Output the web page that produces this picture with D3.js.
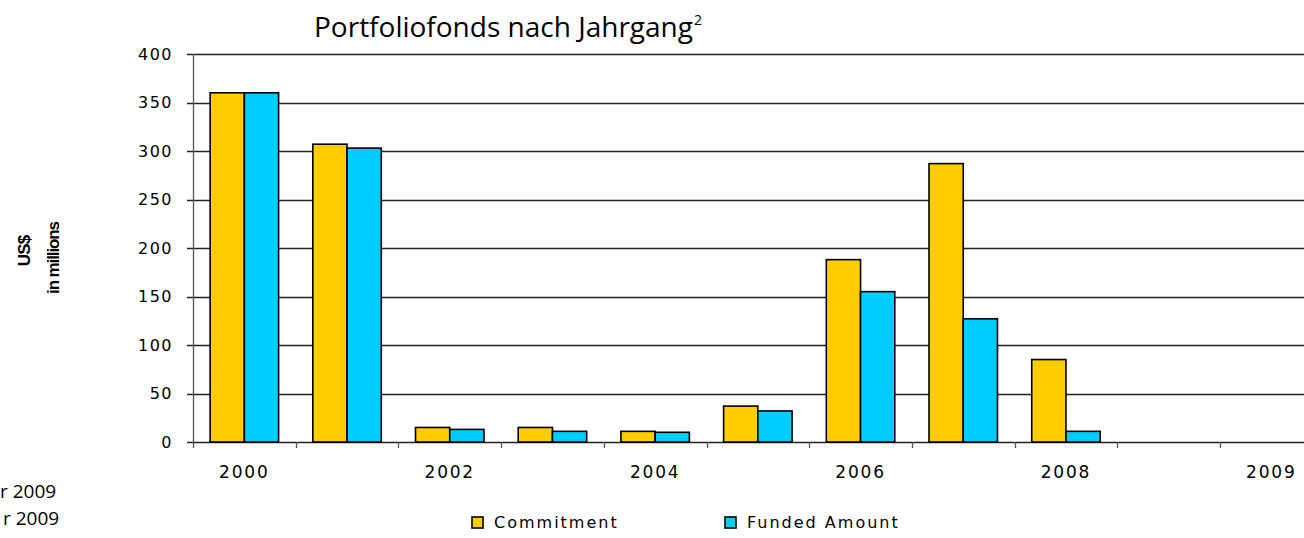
<!DOCTYPE html>
<html>
<head>
<meta charset="utf-8">
<script src="https://cdn.jsdelivr.net/npm/d3@7"></script>
<style>
  body { margin: 0; background: #fff; }
  svg { display: block; }
  .tick-label { font-family: "DejaVu Sans", Verdana, sans-serif; fill: #000; }
</style>
</head>
<body>
<div id="chart"></div>
<script>
// data
var categories = ["2000", "2001", "2002", "2003", "2004", "2005", "2006", "2007", "2008", "2009a", "2009"];
var tickLabels = ["2000", "", "2002", "", "2004", "", "2006", "", "2008", "", "2009"];
var commitment = [360, 307, 15, 15, 11, 37, 188, 287, 85, 0, 0];
var funded = [360, 303, 13, 11, 10, 32, 155, 127, 11, 0, 0];
var seriesNames = ["Commitment", "Funded Amount"];
var seriesColors = ["#FFCC00", "#00CCFF"];
var yTicks = [0, 50, 100, 150, 200, 250, 300, 350, 400];

var width = 1304, height = 538;
var plotLeft = 193, plotTop = 54, plotBottom = 442;
var bandW = 102.7;

var svg = d3.select("#chart").append("svg")
    .attr("width", width)
    .attr("height", height);

var x = d3.scaleBand()
    .domain(categories)
    .range([plotLeft, plotLeft + bandW * categories.length])
    .padding(0);

var x1 = d3.scaleBand()
    .domain(seriesNames)
    .range([x.bandwidth() / 6, x.bandwidth() * 5 / 6])
    .padding(0);

var y = d3.scaleLinear()
    .domain([0, 400])
    .range([plotBottom, plotTop]);

// gridlines
svg.append("g")
    .selectAll("line")
    .data(yTicks)
    .enter().append("line")
    .attr("x1", plotLeft - 6)
    .attr("x2", width)
    .attr("y1", function(d) { return Math.round(y(d)) + 0.5; })
    .attr("y2", function(d) { return Math.round(y(d)) + 0.5; })
    .attr("stroke", "#222")
    .attr("stroke-width", 1.3);

// y axis line
svg.append("line")
    .attr("x1", plotLeft + 0.5).attr("x2", plotLeft + 0.5)
    .attr("y1", plotTop).attr("y2", plotBottom + 6)
    .attr("stroke", "#555")
    .attr("stroke-width", 1.3);

// x ticks at category boundaries
svg.append("g")
    .selectAll("line")
    .data(categories.slice(1))
    .enter().append("line")
    .attr("x1", function(d) { return Math.round(x(d)) + 0.5; })
    .attr("x2", function(d) { return Math.round(x(d)) + 0.5; })
    .attr("y1", plotBottom)
    .attr("y2", plotBottom + 6)
    .attr("stroke", "#555")
    .attr("stroke-width", 1.3);

// y tick labels
svg.append("g")
    .selectAll("text")
    .data(yTicks)
    .enter().append("text")
    .attr("class", "tick-label")
    .attr("x", 173)
    .attr("y", function(d) { return y(d); })
    .attr("dy", "0.36em")
    .attr("text-anchor", "end")
    .style("font-size", "16px")
    .style("letter-spacing", "1.5px")
    .text(function(d) { return d; });

// x tick labels
svg.append("g")
    .selectAll("text")
    .data(categories)
    .enter().append("text")
    .attr("class", "tick-label")
    .attr("x", function(d) { return x(d) + x.bandwidth() / 2; })
    .attr("y", 478)
    .attr("text-anchor", "middle")
    .style("font-size", "17px")
    .style("letter-spacing", "1.8px")
    .text(function(d, i) { return tickLabels[i]; });

// bars
var rows = categories.map(function(c, i) {
    return { cat: c, values: [commitment[i], funded[i]] };
});

var groups = svg.append("g")
    .selectAll("g")
    .data(rows)
    .enter().append("g")
    .attr("transform", function(d) { return "translate(" + x(d.cat) + ",0)"; });

groups.selectAll("rect")
    .data(function(d) {
        return d.values.map(function(v, j) { return { name: seriesNames[j], value: v, color: seriesColors[j] }; })
            .filter(function(e) { return e.value > 0; });
    })
    .enter().append("rect")
    .attr("x", function(d) { return x1(d.name); })
    .attr("y", function(d) { return y(d.value); })
    .attr("width", x1.bandwidth())
    .attr("height", function(d) { return plotBottom - y(d.value); })
    .attr("fill", function(d) { return d.color; })
    .attr("stroke", "#000")
    .attr("stroke-width", 1.6);

// title
var title = svg.append("text")
    .attr("x", 314)
    .attr("y", 37)
    .style("font-family", "'Open Sans', sans-serif")
    .style("font-size", "28px")
    .style("font-weight", 500)
    .style("fill", "#000");
title.append("tspan").text("Portfoliofonds nach Jahrgang");
title.append("tspan")
    .attr("dy", -12)
    .attr("dx", 1)
    .style("font-size", "14px")
    .text("2");

// y axis title
svg.append("text")
    .attr("transform", "translate(30,251) rotate(-90)")
    .attr("text-anchor", "middle")
    .style("font-family", "'Liberation Sans Narrow', 'Liberation Sans', sans-serif")
    .style("font-size", "17px")
    .style("font-weight", "bold")
    .style("letter-spacing", "-0.8px")
    .text("US$");
svg.append("text")
    .attr("transform", "translate(59,258) rotate(-90)")
    .attr("text-anchor", "middle")
    .style("font-family", "'Liberation Sans Narrow', 'Liberation Sans', sans-serif")
    .style("font-size", "17px")
    .style("font-weight", "bold")
    .style("letter-spacing", "-1.1px")
    .text("in millions");

// footnote lines cut off at the left edge
svg.append("text")
    .attr("x", 0).attr("y", 498)
    .style("font-family", "'Open Sans', sans-serif")
    .style("font-size", "19px")
    .style("font-weight", 500)
    .text("r 2009");
svg.append("text")
    .attr("x", 3).attr("y", 525)
    .style("font-family", "'Open Sans', sans-serif")
    .style("font-size", "19px")
    .style("font-weight", 500)
    .text("r 2009");

// legend
var legendX = [472, 725];
var legend = svg.append("g")
    .selectAll("g")
    .data(seriesNames)
    .enter().append("g")
    .attr("transform", function(d, i) { return "translate(" + legendX[i] + ",517)"; });
legend.append("rect")
    .attr("width", 11).attr("height", 11)
    .attr("fill", function(d, i) { return seriesColors[i]; })
    .attr("stroke", "#000")
    .attr("stroke-width", 1.6);
legend.append("text")
    .attr("class", "tick-label")
    .attr("x", 22)
    .attr("y", 11)
    .style("font-size", "16px")
    .style("letter-spacing", "2px")
    .text(function(d) { return d; });
</script>
</body>
</html>
